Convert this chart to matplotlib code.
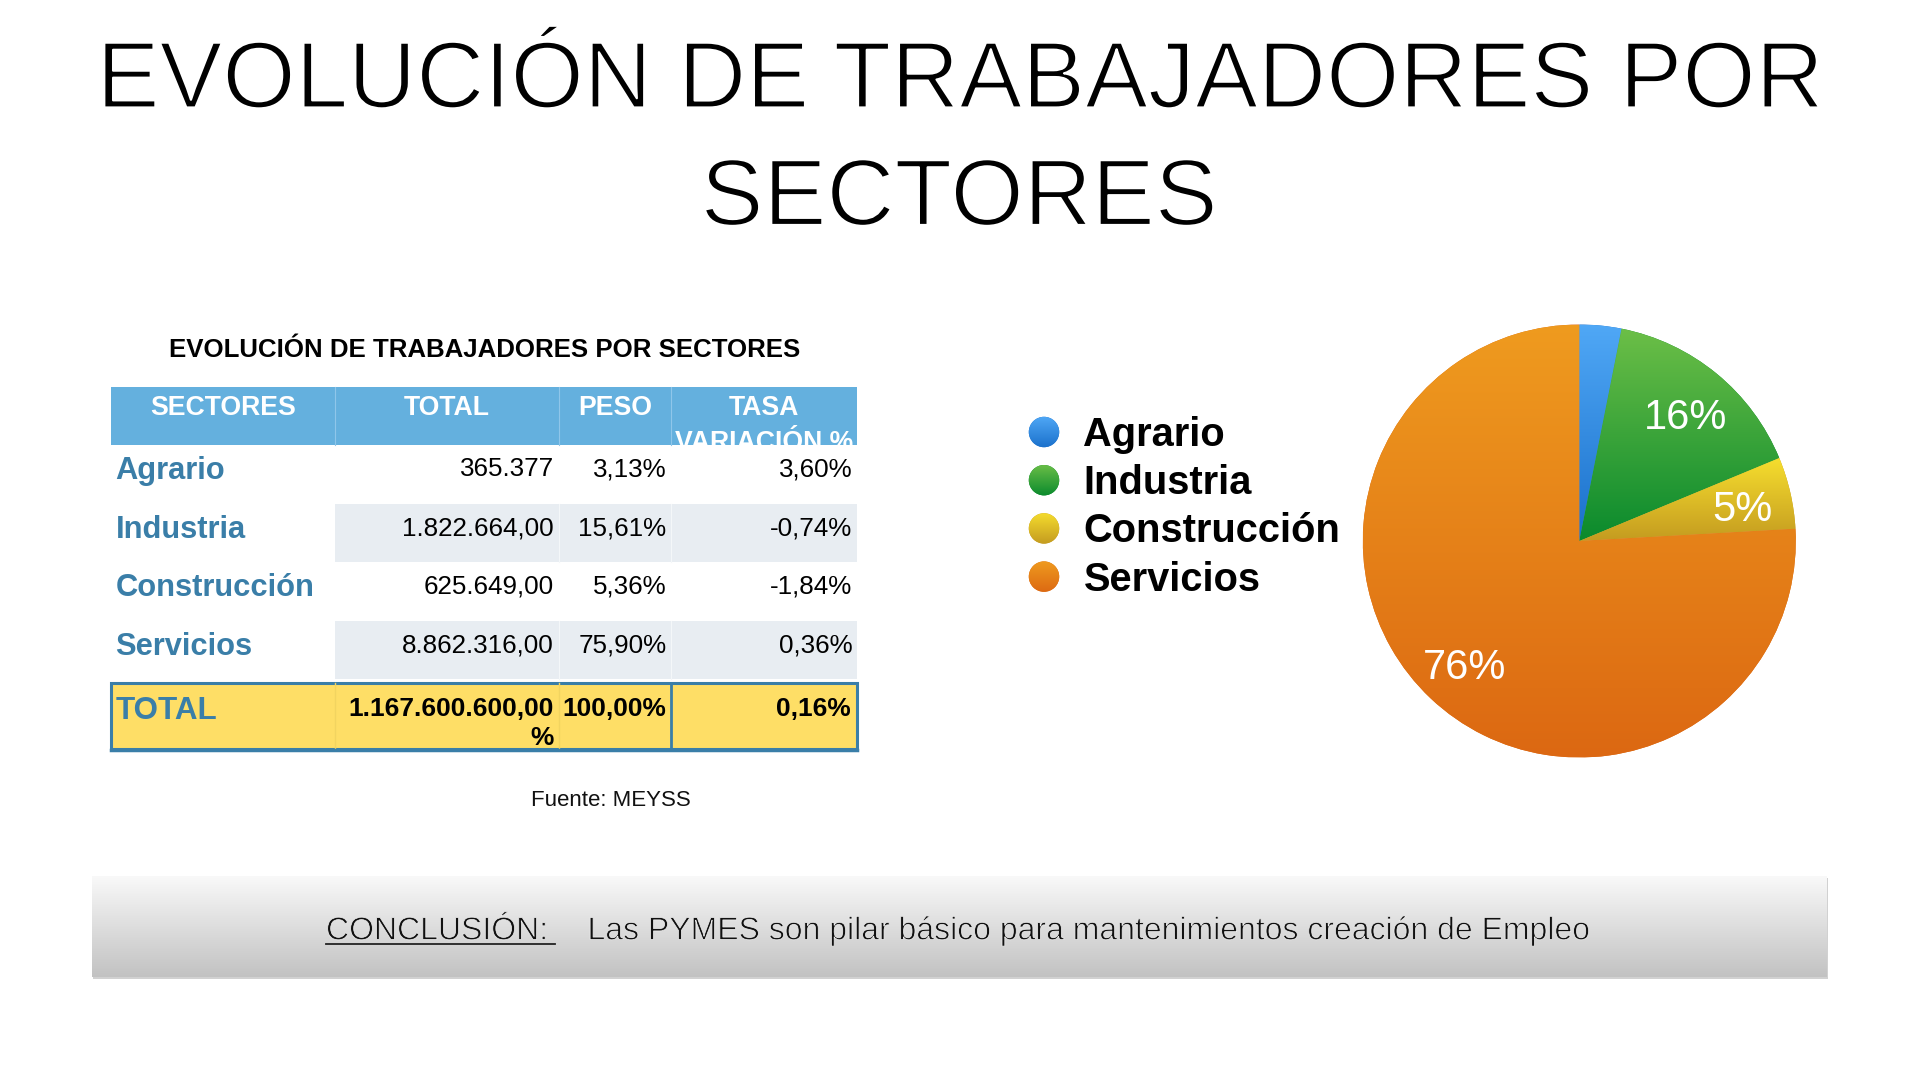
import numpy as np
import matplotlib
matplotlib.use("Agg")
import matplotlib.pyplot as plt
import matplotlib.patheffects as pe
from matplotlib.patches import Rectangle, Circle
from matplotlib.colors import to_rgb

# ---------------- data ----------------
TITLE_LINES = ["EVOLUCIÓN DE TRABAJADORES POR", "SECTORES"]
TABLE_TITLE = "EVOLUCIÓN DE TRABAJADORES POR SECTORES"
HEADERS = ["SECTORES", "TOTAL", "PESO", "TASA\nVARIACIÓN %"]
sectors = ["Agrario", "Industria", "Construcción", "Servicios"]
totals = ["365.377", "1.822.664,00", "625.649,00", "8.862.316,00"]
peso = [3.13, 15.61, 5.36, 75.90]
tasa = [3.60, -0.74, -1.84, 0.36]
total_label = "TOTAL"
total_total = "1.167.600.600,00"
total_total_wrap = "%"
total_peso = "100,00%"
total_tasa = "0,16%"
source_text = "Fuente: MEYSS"
conclusion_label = "CONCLUSIÓN:"
conclusion_text = "Las PYMES son pilar básico para mantenimientos creación de Empleo"

# gradient colours (top, bottom) per sector
grad_top = ["#50a8f6", "#6cbf47", "#f6de2e", "#ef9b1f"]
grad_bot = ["#1a70cb", "#0a8a2d", "#c49b20", "#dc6812"]

# ---------------- style ----------------
HEAD_BG = "#64b0de"
ROW_ALT = "#e8edf2"
LABEL_BLUE = "#3a7ea8"
YELLOW = "#fede66"
TFONT = ["Liberation Sans", "DejaVu Sans"]

fig = plt.figure(figsize=(19.2, 10.8), dpi=100)
fig.patch.set_facecolor("white")
ax = fig.add_axes([0, 0, 1, 1])
ax.set_xlim(0, 1920)
ax.set_ylim(1080, 0)
ax.axis("off")
renderer = fig.canvas.get_renderer()


def fit_width(t, target):
    bb = t.get_window_extent(renderer)
    t.set_fontsize(t.get_fontsize() * target / bb.width)


def vgrad(top, bot, n=256):
    a = np.linspace(0, 1, n)[:, None, None]
    return (1 - a) * np.array(to_rgb(top))[None, None, :] + a * np.array(to_rgb(bot))[None, None, :]


thin_title = [pe.Stroke(linewidth=1.6, foreground="white")]
thin_text = [pe.Stroke(linewidth=0.55, foreground="#eeeeee")]

# ---------------- title ----------------
t1 = ax.text(960, 107.5, TITLE_LINES[0], ha="center", va="baseline", fontsize=70,
             family=TFONT, color="black")
fit_width(t1, 1728)
t1.set_path_effects(thin_title)
t2 = ax.text(959, 225, TITLE_LINES[1], ha="center", va="baseline", fontsize=t1.get_fontsize(),
             family=TFONT, color="black", path_effects=thin_title)

# ---------------- table ----------------
ax.text(485, 357, TABLE_TITLE, ha="center", va="baseline", fontsize=18.6,
        family=TFONT, fontweight="bold", color="black")

col_edges = [111, 335, 558.5, 671, 857]
head_top, head_bot = 387, 445
row_h = 58.6

head_rect = Rectangle((col_edges[0], head_top), col_edges[-1] - col_edges[0], head_bot - head_top,
                      facecolor=HEAD_BG, edgecolor="none", zorder=1)
ax.add_patch(head_rect)
for xe in col_edges[1:-1]:
    ax.plot([xe, xe], [head_top, head_bot], color="#8fc6ea", lw=0.8, zorder=2)

for i, h in enumerate(HEADERS):
    cx = (col_edges[i] + col_edges[i + 1]) / 2
    for k, line in enumerate(h.split("\n")):
        tt = ax.text(cx, 415 + 35 * k, line, ha="center", va="baseline", fontsize=19.2,
                     family=TFONT, fontweight="bold", color="white", zorder=3)
        tt.set_clip_path(head_rect)


def pct(v):
    return f"{v:.2f}".replace(".", ",") + "%"


for r, name in enumerate(sectors):
    top = head_bot + r * row_h
    if r % 2 == 1:
        ax.add_patch(Rectangle((col_edges[1], top), col_edges[-1] - col_edges[1], row_h,
                               facecolor=ROW_ALT, edgecolor="none", zorder=1))
        for xe in col_edges[2:-1]:
            ax.plot([xe, xe], [top, top + row_h], color="#f4f7f9", lw=0.8, zorder=2)
    ax.text(115.5, top + 34.3, name, ha="left", va="baseline", fontsize=22.2,
            family=TFONT, fontweight="bold", color=LABEL_BLUE, zorder=3)
    vals = [totals[r], pct(peso[r]), pct(tasa[r])]
    for c, v in enumerate(vals):
        ax.text(col_edges[c + 2] - 4.5, top + 31.5, v, ha="right", va="baseline", fontsize=18.7,
                family=TFONT, color="black", zorder=3)

# total row
tot_top, tot_bot = 682.7, 749.3
ax.add_patch(Rectangle((col_edges[0], tot_top), col_edges[-1] - col_edges[0], tot_bot - tot_top,
                       facecolor=YELLOW, edgecolor=LABEL_BLUE, lw=2.2, zorder=1))
for xe in col_edges[1:3]:
    ax.plot([xe, xe], [tot_top, tot_bot], color="#f2d460", lw=1, zorder=2)
ax.plot([col_edges[3], col_edges[3]], [tot_top, tot_bot], color=LABEL_BLUE, lw=2, zorder=2)
ax.plot([col_edges[0], col_edges[-1]], [tot_bot + 1, tot_bot + 1], color=LABEL_BLUE, lw=2.5, zorder=2)
ax.text(115.5, 719, total_label, ha="left", va="baseline", fontsize=22.6,
        family=TFONT, fontweight="bold", color=LABEL_BLUE, zorder=3)
ax.text(col_edges[2] - 4.5, 715.5, total_total, ha="right", va="baseline", fontsize=18.9,
        family=TFONT, fontweight="bold", color="black", zorder=3)
ax.text(col_edges[2] - 4.5, 745, total_total_wrap, ha="right", va="baseline", fontsize=18.9,
        family=TFONT, fontweight="bold", color="black", zorder=3)
ax.text(col_edges[3] - 4.5, 715.5, total_peso, ha="right", va="baseline", fontsize=18.9,
        family=TFONT, fontweight="bold", color="black", zorder=3)
ax.text(col_edges[4] - 6, 715.5, total_tasa, ha="right", va="baseline", fontsize=18.9,
        family=TFONT, fontweight="bold", color="black", zorder=3)

ax.text(611, 806, source_text, ha="center", va="baseline", fontsize=16.0,
        family=TFONT, color="#111111")

# ---------------- legend ----------------
leg_x, leg_y0, leg_dy = 1044, 432, 48.2
for i, name in enumerate(sectors):
    cy = leg_y0 + i * leg_dy
    circ = Circle((leg_x, cy), 15.2, facecolor=grad_bot[i], edgecolor="none", zorder=2)
    ax.add_patch(circ)
    im = ax.imshow(vgrad(grad_top[i], grad_bot[i]), extent=(leg_x - 16, leg_x + 16, cy + 16, cy - 16),
                   origin="upper", aspect="auto", interpolation="bilinear", zorder=3)
    im.set_clip_path(circ)
    ax.text(1083.5, cy + 14, name, ha="left", va="baseline", fontsize=28.7,
            family=TFONT, fontweight="bold", color="black", zorder=3)

# ---------------- conclusion box ----------------
bx0, by0, bw, bh = 92, 876, 1735, 101
ax.add_patch(Rectangle((bx0 + 1, by0 + 2), bw, bh, facecolor="#9a9a9a", edgecolor="none",
                       alpha=0.45, zorder=1))
box = Rectangle((bx0, by0), bw, bh, facecolor="#dddddd", edgecolor="none", zorder=2)
ax.add_patch(box)
imb = ax.imshow(vgrad("#f9f9f9", "#c2c2c2"), extent=(bx0, bx0 + bw, by0 + bh, by0),
                origin="upper", aspect="auto", interpolation="bilinear", zorder=2.5)
imb.set_clip_path(box)
ct = ax.text(587.5, 939.5, conclusion_text, ha="left", va="baseline", fontsize=22.7,
             family=TFONT, color="#111111", zorder=3)
fit_width(ct, 1003)
ct.set_path_effects(thin_text)
cl = ax.text(326, 939.5, conclusion_label, ha="left", va="baseline", fontsize=ct.get_fontsize(),
             family=TFONT, color="#111111", zorder=3, path_effects=thin_text)
ax.plot([326, 555], [943.5, 943.5], color="#222222", lw=1.3, zorder=3)

ax.set_xlim(0, 1920)
ax.set_ylim(1080, 0)

# ---------------- pie ----------------
pcx, pcy, pr = 1579.3, 541.0, 216.5
axp = fig.add_axes([(pcx - pr) / 1920, 1 - (pcy + pr) / 1080, 2 * pr / 1920, 2 * pr / 1080])
wedges, texts, autotexts = axp.pie(
    peso, startangle=90, counterclock=False, radius=1,
    colors=grad_bot, autopct=lambda p: f"{p:.0f}%" if p >= 4 else "",
    pctdistance=0.772, wedgeprops=dict(linewidth=0),
    textprops=dict(color="white", fontsize=30, family=TFONT))
for i, w in enumerate(wedges):
    ext = w.get_path().get_extents()
    im = axp.imshow(vgrad(grad_top[i], grad_bot[i]), extent=(ext.x0, ext.x1, ext.y0, ext.y1),
                    origin="upper", aspect="auto", interpolation="bilinear", zorder=1.5)
    im.set_clip_path(w)
for t in autotexts:
    t.set_zorder(4)
    x, y = t.get_position()
    t.set_position((x, y - 6 / pr))
axp.set_xlim(-1, 1)
axp.set_ylim(-1, 1)
axp.set_aspect("equal")
axp.axis("off")

fig.savefig("out.png", dpi=100, facecolor="white")
